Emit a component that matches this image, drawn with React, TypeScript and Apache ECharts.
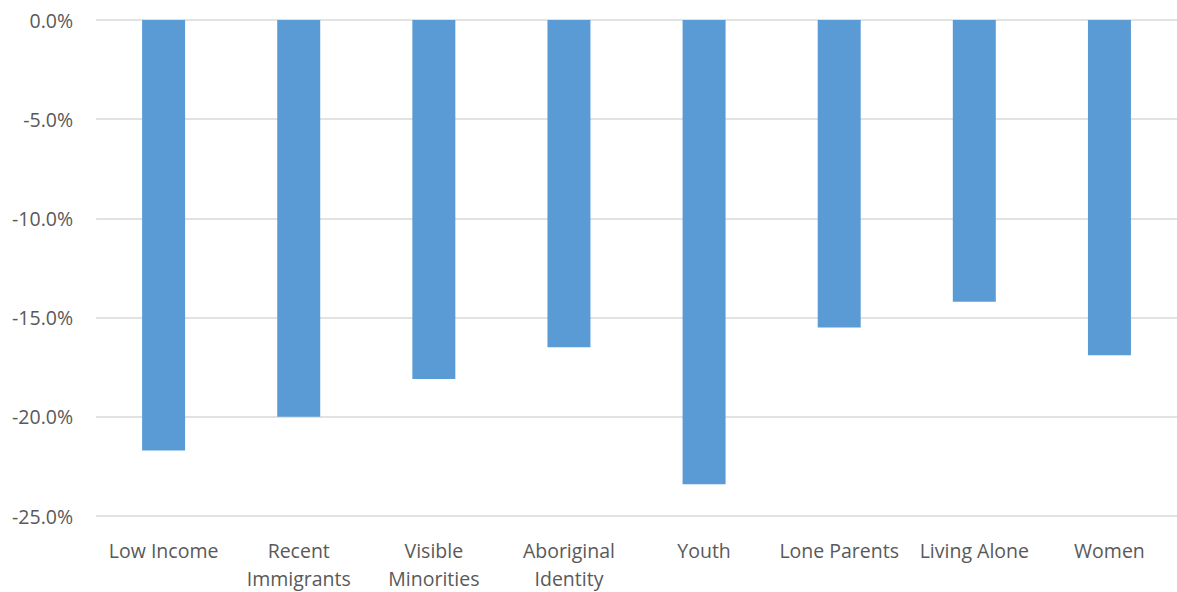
import React, { useEffect, useRef } from "react";
import * as echarts from "echarts";

const categories = [
  "Low Income",
  "Recent\nImmigrants",
  "Visible\nMinorities",
  "Aboriginal\nIdentity",
  "Youth",
  "Lone Parents",
  "Living Alone",
  "Women",
];
const values = [-21.7, -20.0, -18.1, -16.5, -23.4, -15.5, -14.2, -16.9];
const yTicks = { min: -25, max: 0, interval: 5 };

export default function App() {
  const ref = useRef<HTMLDivElement>(null);
  useEffect(() => {
    if (!ref.current) return;
    const chart = echarts.init(ref.current, undefined, { renderer: "svg" });
    const font = "'Open Sans', 'Noto Sans', sans-serif";
    chart.setOption({
      animation: false,
      backgroundColor: "#ffffff",
      grid: { left: "8.16%", width: "92.27%", top: "3.38%", height: "84.46%", containLabel: false },
      xAxis: {
        type: "category",
        data: categories,
        position: "bottom",
        axisLine: { show: false },
        axisTick: { show: false },
        splitLine: { show: false },
        axisLabel: {
          color: "#595959",
          fontSize: 19.5,
          fontFamily: font,
          margin: 20,
          lineHeight: 28,
          interval: 0,
        },
      },
      yAxis: {
        type: "value",
        min: yTicks.min,
        max: yTicks.max,
        interval: yTicks.interval,
        axisLine: { show: false },
        axisTick: { show: false },
        splitLine: { lineStyle: { color: "#D9D9D9", width: 1.5 } },
        axisLabel: {
          color: "#595959",
          fontSize: 19.5,
          fontFamily: font,
          margin: 23,
          formatter: (v: number) => (Math.abs(v) < 1e-9 ? "0.0%" : v.toFixed(1) + "%"),
        },
      },
      series: [
        {
          type: "bar",
          data: values,
          barWidth: 43,
          itemStyle: { color: "#5B9BD5" },
        },
      ],
    });
    return () => chart.dispose();
  }, []);
  return (
    <div
      ref={ref}
      style={{ position: "fixed", left: 0, top: 0, width: "100vw", height: "100vh", overflow: "hidden" }}
    />
  );
}
